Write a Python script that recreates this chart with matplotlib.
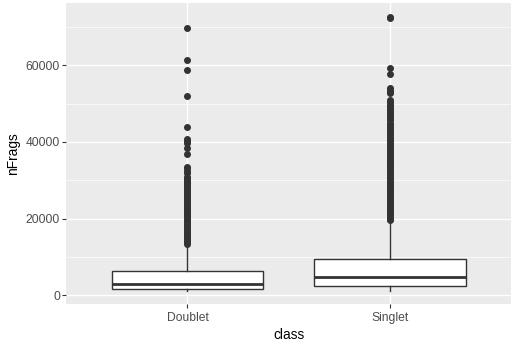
import matplotlib
matplotlib.use("Agg")
import matplotlib.pyplot as plt
from matplotlib.ticker import MultipleLocator

categories = ["Doublet", "Singlet"]
whisker_low = [1000, 1000]
q1 = [1565, 2426]
median = [3026, 4852]
q3 = [6339, 9391]
whisker_high = [13122, 18939]

doublet_outliers = [69650, 61470, 58860, 51900, 43950, 40700, 40200, 39650, 38500,
                    36780, 33550, 33100, 32500, 31850, 30950, 30500, 30100, 29600,
                    29200, 28700, 28300, 27800, 27400, 26900, 26500, 26000, 25600,
                    25100, 24700, 24200, 23800, 23300, 22900, 22400, 22000, 21500,
                    21100, 20600, 20200, 19700, 19300, 18800, 18400, 17900, 17500,
                    17000, 16600, 16100, 15700, 15200, 14800, 14300, 13900, 13500]
singlet_outliers = [72700, 72350, 59380, 57730, 54000, 53500, 53000, 52700, 50900,
                    50400, 49800, 49300, 48800, 48300, 47800, 47300, 46700, 46200,
                    45700, 44900, 44400, 43900, 43400, 42900, 42400, 41900, 41400,
                    40900, 40400, 39900, 39400, 38900, 38400, 37900, 37400, 36900,
                    36400, 35900, 35400, 34900, 34400, 33900, 33400, 32900, 32400,
                    31900, 31400, 30900, 30400, 29900, 29400, 28900, 28400, 27900,
                    27400, 26900, 26400, 25900, 25400, 24900, 24400, 23900, 23400,
                    22900, 22400, 21900, 21400, 20900, 20400, 19900, 19600]
outliers = [doublet_outliers, singlet_outliers]

y_ticks = [0, 20000, 40000, 60000]
y_tick_labels = ["0", "20000", "40000", "60000"]

plt.rcParams['font.family'] = ['Liberation Sans', 'DejaVu Sans']

W, H = 515, 348
fig = plt.figure(figsize=(W / 100, H / 100), dpi=100)
left, right, top, bottom = 66, 511.3, 3, 304.3
ax = fig.add_axes([left / W, (H - bottom) / H, (right - left) / W, (bottom - top) / H])
ax.set_facecolor("#EBEBEB")
for s in ax.spines.values():
    s.set_visible(False)

stats = []
for i, c in enumerate(categories):
    stats.append(dict(label=c, whislo=whisker_low[i], q1=q1[i], med=median[i],
                      q3=q3[i], whishi=whisker_high[i], fliers=outliers[i]))

dark = "#333333"
positions = list(range(1, len(categories) + 1))
ax.bxp(stats, positions=positions, widths=0.75, patch_artist=True, showcaps=False,
       boxprops=dict(facecolor="white", edgecolor=dark, linewidth=1.0),
       medianprops=dict(color=dark, linewidth=2.0),
       whiskerprops=dict(color=dark, linewidth=1.0),
       flierprops=dict(marker="o", markerfacecolor=dark, markeredgecolor=dark,
                       markersize=4.0, linestyle="none"),
       zorder=3)

ax.set_xlim(0.4, 2.6)
ax.set_ylim(-2350, 76250)
ax.set_yticks(y_ticks)
ax.set_yticklabels(y_tick_labels)
ax.yaxis.set_minor_locator(MultipleLocator(10000))
ax.set_xticks(positions)
ax.set_xticklabels(categories)

ax.grid(True, which="major", color="white", linewidth=1.0, zorder=0)
ax.grid(True, which="minor", axis="y", color="white", linewidth=0.5, zorder=0)
ax.set_axisbelow(True)

ax.tick_params(axis="both", which="major", color=dark, length=2.6, width=0.8,
               labelsize=8.7, labelcolor="#4D4D4D", pad=1.8)
ax.tick_params(axis="x", which="major", pad=3.0)
ax.tick_params(axis="both", which="minor", length=0)

ax.set_xlabel("class", fontsize=9.9, color="black", labelpad=2.5)
ax.set_ylabel("nFrags", fontsize=9.9, color="black", labelpad=4)

fig.savefig("out.png", dpi=100)
